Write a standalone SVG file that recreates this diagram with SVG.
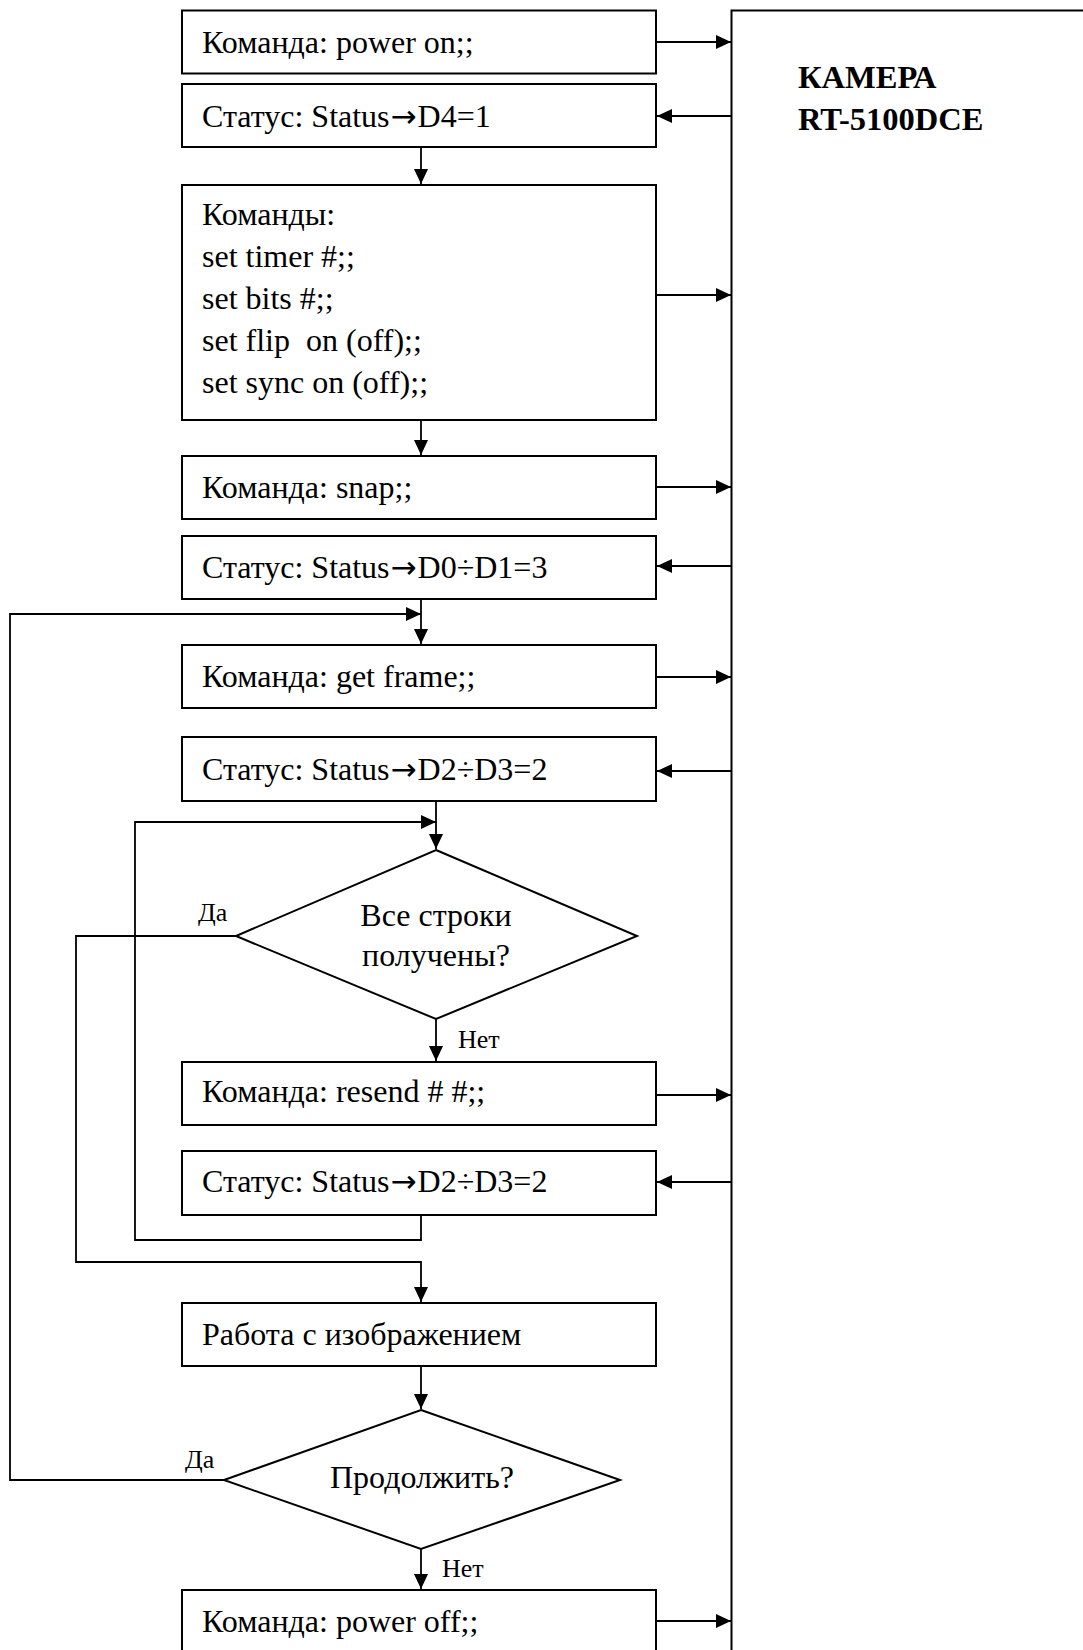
<svg xmlns="http://www.w3.org/2000/svg" width="1083" height="1650" viewBox="0 0 1083 1650">
<defs>
<marker id="ah" markerUnits="userSpaceOnUse" markerWidth="16" markerHeight="14" refX="15" refY="7" orient="auto">
<path d="M0,0 L15,7 L0,14 Z" fill="#000"/>
</marker>
<style>
.box{fill:#fff;stroke:#000;stroke-width:2}
.ln{fill:none;stroke:#000;stroke-width:1.8}
.ar{fill:none;stroke:#000;stroke-width:1.8;marker-end:url(#ah)}
.t{font-family:"Liberation Serif","Times New Roman",serif;font-size:32px;fill:#000}
.arr{font-family:"DejaVu Sans",sans-serif;font-size:31px}
.lb{font-family:"Liberation Serif","Times New Roman",serif;font-size:26px;fill:#000}
.cam{font-family:"Liberation Serif","Times New Roman",serif;font-size:32.5px;font-weight:bold;fill:#000}
</style>
</defs>
<rect width="1083" height="1650" fill="#fff"/>

<g id="camera">
<path class="box" d="M731.5,1652 V10.5 H1085" fill="none"/>
<text class="cam" x="798" y="88">КАМЕРА</text>
<text class="cam" x="798" y="130">RT-5100DCE</text>
</g>

<g id="n1"><rect class="box" x="182" y="10.5" width="474" height="63"/><text class="t" x="202" y="53">Команда: power on;;</text></g>
<g id="n2"><rect class="box" x="182" y="84" width="474" height="63"/><text class="t" x="202" y="127">Статус: Status<tspan class="arr" dx="1">→</tspan><tspan dx="1">D4=1</tspan></text></g>
<g id="n3"><rect class="box" x="182" y="185" width="474" height="235"/>
<text class="t" x="202" y="225">Команды:</text>
<text class="t" x="202" y="267">set timer #;;</text>
<text class="t" x="202" y="309">set bits #;;</text>
<text class="t" x="202" y="351" xml:space="preserve">set flip  on (off);;</text>
<text class="t" x="202" y="393">set sync on (off);;</text>
</g>
<g id="n4"><rect class="box" x="182" y="456" width="474" height="63"/><text class="t" x="202" y="498">Команда: snap;;</text></g>
<g id="n5"><rect class="box" x="182" y="536" width="474" height="63"/><text class="t" x="202" y="578">Статус: Status<tspan class="arr" dx="1">→</tspan><tspan dx="1">D0÷D1=3</tspan></text></g>
<g id="n6"><rect class="box" x="182" y="645" width="474" height="63"/><text class="t" x="202" y="687">Команда: get frame;;</text></g>
<g id="n7"><rect class="box" x="182" y="737" width="474" height="64"/><text class="t" x="202" y="780">Статус: Status<tspan class="arr" dx="1">→</tspan><tspan dx="1">D2÷D3=2</tspan></text></g>
<g id="d1"><polygon class="box" points="436,850 637,936 436,1019 236,936"/>
<text class="t" x="436" y="926" text-anchor="middle">Все строки</text>
<text class="t" x="436" y="966" text-anchor="middle">получены?</text>
</g>
<g id="n8"><rect class="box" x="182" y="1062" width="474" height="63"/><text class="t" x="202" y="1102">Команда: resend # #;;</text></g>
<g id="n9"><rect class="box" x="182" y="1151" width="474" height="64"/><text class="t" x="202" y="1192">Статус: Status<tspan class="arr" dx="1">→</tspan><tspan dx="1">D2÷D3=2</tspan></text></g>
<g id="n10"><rect class="box" x="182" y="1303" width="474" height="63"/><text class="t" x="202" y="1345">Работа с изображением</text></g>
<g id="d2"><polygon class="box" points="421,1410 620,1480 421,1549 224,1480"/>
<text class="t" x="422" y="1488" text-anchor="middle">Продолжить?</text>
</g>
<g id="n11"><path class="box" d="M182,1652 V1590 H656 V1652"/><text class="t" x="202" y="1632">Команда: power off;;</text></g>

<g id="connectors">
<line class="ar" x1="656" y1="42" x2="731" y2="42"/>
<line class="ar" x1="731" y1="116" x2="657" y2="116"/>
<line class="ar" x1="421" y1="147" x2="421" y2="184"/>
<line class="ar" x1="656" y1="295" x2="731" y2="295"/>
<line class="ar" x1="421" y1="420" x2="421" y2="455"/>
<line class="ar" x1="656" y1="487" x2="731" y2="487"/>
<line class="ar" x1="731" y1="566" x2="657" y2="566"/>
<line class="ar" x1="421" y1="599" x2="421" y2="644"/>
<polyline class="ar" points="224,1480 10,1480 10,614 421,614"/>
<line class="ar" x1="656" y1="677" x2="731" y2="677"/>
<line class="ar" x1="731" y1="771" x2="657" y2="771"/>
<line class="ar" x1="436" y1="801" x2="436" y2="849"/>
<polyline class="ar" points="421,1215 421,1240 135,1240 135,822 436,822"/>
<line class="ar" x1="436" y1="1019" x2="436" y2="1061"/>
<line class="ar" x1="656" y1="1095" x2="731" y2="1095"/>
<line class="ar" x1="731" y1="1182" x2="657" y2="1182"/>
<polyline class="ar" points="236,936 76,936 76,1262 421,1262 421,1302"/>
<line class="ar" x1="421" y1="1366" x2="421" y2="1409"/>
<line class="ar" x1="421" y1="1549" x2="421" y2="1589"/>
<line class="ar" x1="656" y1="1621" x2="731" y2="1621"/>
<text class="lb" x="198" y="921">Да</text>
<text class="lb" x="458" y="1048">Нет</text>
<text class="lb" x="185" y="1468">Да</text>
<text class="lb" x="442" y="1577">Нет</text>
</g>
</svg>
